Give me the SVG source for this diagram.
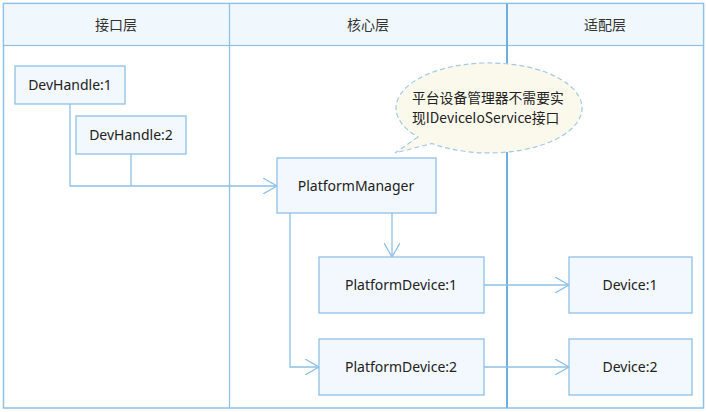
<svg xmlns="http://www.w3.org/2000/svg" width="706" height="412" viewBox="0 0 706 412">
<style>
.frame{fill:#ffffff;stroke:#8fc0e6;stroke-width:1.5}
.head{fill:#f1f8fd;stroke:#8fc0e6;stroke-width:1.2}
.div{stroke:#8fc0e6;stroke-width:1.3;fill:none}
.div2{stroke:#6faee0;stroke-width:2;fill:none}
.node{fill:#f2f8fd;stroke:#8fc0e6;stroke-width:1.3}
.txt{font-family:"Noto Sans","Noto Sans CJK SC",sans-serif;font-size:14px;fill:#222222;text-anchor:middle}
.htxt{font-family:"Noto Sans CJK SC","Noto Sans",sans-serif;font-size:14px;fill:#333333;text-anchor:middle}
.conn{fill:none;stroke:#8fc0e6;stroke-width:1.3}
.note{fill:#fbf9ec;stroke:#a3c9e6;stroke-width:1.2;stroke-dasharray:5 3}
.ntxt{font-family:"Noto Sans CJK SC","Noto Sans",sans-serif;font-size:13.8px;fill:#222222}
</style>
<defs>
<marker id="arr" viewBox="0 0 14 16" refX="14" refY="8" markerWidth="14" markerHeight="16" markerUnits="userSpaceOnUse" orient="auto">
<path d="M0,0 L14,8 L0,16" fill="none" stroke="#8fc0e6" stroke-width="1.3"/>
</marker>
</defs>
<g id="lanes">
<rect class="frame" x="3.5" y="3.5" width="700" height="404.5"/>
<rect class="head" x="3.5" y="3.5" width="700" height="42"/>
<line class="div" x1="229.5" y1="3.5" x2="229.5" y2="408"/>
<line class="div2" x1="507" y1="3.5" x2="507" y2="408"/>
<text class="htxt" x="116" y="30">接口层</text>
<text class="htxt" x="368" y="30">核心层</text>
<text class="htxt" x="605" y="30">适配层</text>
</g>
<g id="connectors">
<polyline class="conn" points="70,104 70,186 277,186" marker-end="url(#arr)"/>
<line class="conn" x1="131" y1="154" x2="131" y2="186"/>
<line class="conn" x1="392" y1="213" x2="392" y2="257" marker-end="url(#arr)"/>
<polyline class="conn" points="290,213 290,367 319,367" marker-end="url(#arr)"/>
<line class="conn" x1="484" y1="285" x2="569" y2="285" marker-end="url(#arr)"/>
<line class="conn" x1="484" y1="367" x2="569" y2="367" marker-end="url(#arr)"/>
</g>
<g id="devhandle1"><rect class="node" x="15" y="66" width="110" height="38"/><text class="txt" x="70" y="90">DevHandle:1</text></g>
<g id="devhandle2"><rect class="node" x="76" y="116" width="110" height="38"/><text class="txt" x="131" y="140">DevHandle:2</text></g>
<g id="platformmanager"><rect class="node" x="277" y="158" width="159" height="55"/><text class="txt" x="356" y="191">PlatformManager</text></g>
<g id="platformdevice1"><rect class="node" x="319" y="257" width="165" height="56"/><text class="txt" x="401" y="290">PlatformDevice:1</text></g>
<g id="platformdevice2"><rect class="node" x="319" y="339" width="165" height="56"/><text class="txt" x="401" y="372">PlatformDevice:2</text></g>
<g id="device1"><rect class="node" x="569" y="257" width="123" height="56"/><text class="txt" x="630" y="290">Device:1</text></g>
<g id="device2"><rect class="node" x="569" y="339" width="123" height="56"/><text class="txt" x="630" y="372">Device:2</text></g>
<g id="note">
<path class="note" d="M418,137 L395,153 L432,143.5 A93 45 0 1 0 418,137 Z"/>
<text class="ntxt" x="412" y="103">平台设备管理器不需要实</text>
<text class="ntxt" x="412" y="123">现IDeviceIoService接口</text>
</g>
</svg>
